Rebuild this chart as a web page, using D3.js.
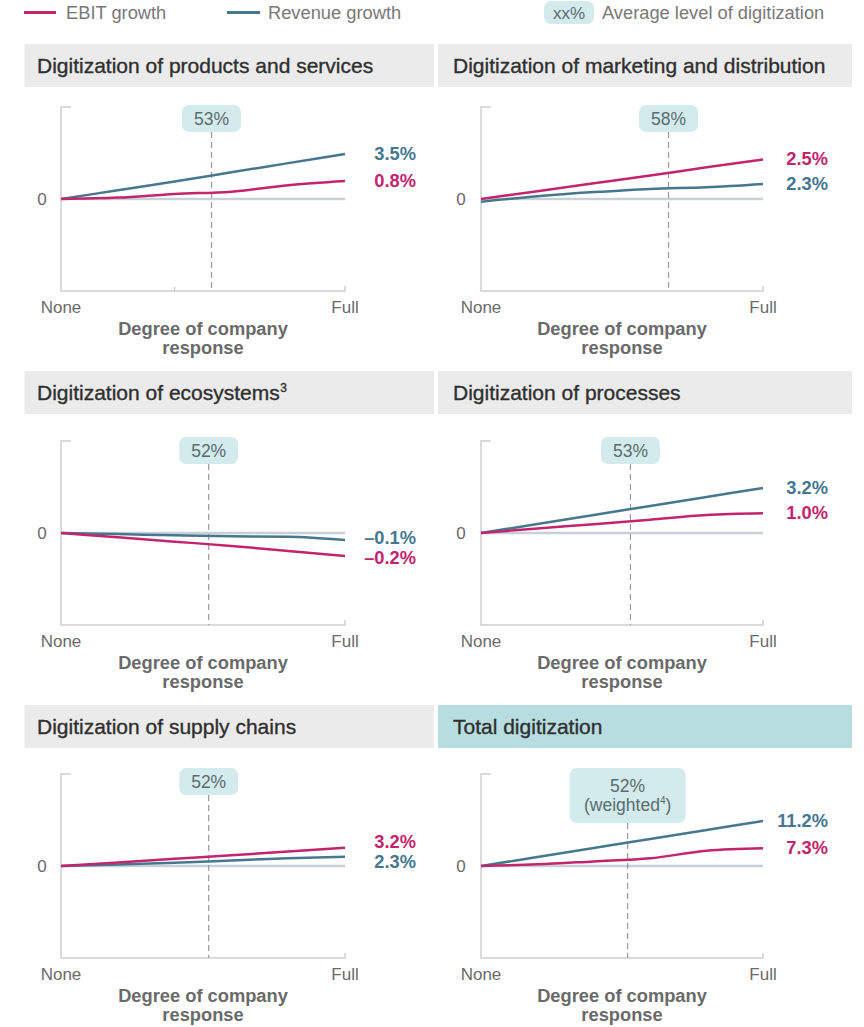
<!DOCTYPE html>
<html>
<head>
<meta charset="utf-8">
<script src="https://cdn.jsdelivr.net/npm/d3@7"></script>
<style>
  html, body { margin: 0; padding: 0; background: #fff; }
  svg { display: block; }
  text { font-family: "Liberation Sans", Arial, Helvetica, sans-serif; }
</style>
</head>
<body>
<svg id="chart" width="864" height="1027"></svg>
<script>
// ---------- DATA ----------
const titles = [
  "Digitization of products and services",
  "Digitization of marketing and distribution",
  "Digitization of ecosystems",
  "Digitization of processes",
  "Digitization of supply chains",
  "Total digitization"
];
const titleSup = ["", "", "3", "", "", ""];
const badgeLabels = ["53%", "58%", "52%", "53%", "52%", "52%"];
const badgeSubLabels = ["", "", "", "", "", "(weighted"];
const markerPos = [53, 66.5, 52, 53, 52, 52];   // position of dashed line on the None..Full axis (0..100)
const xSteps = [0, 20, 40, 60, 80, 100];        // None .. Full
// relative line heights (index units, zero = no growth)
const ebit = [
  [0, 1.5, 5.5, 8, 15, 19.5],
  [0, 8.5, 17, 25.5, 34.5, 43],
  [0, -4.7, -9.4, -14, -19.6, -25],
  [0, 5, 9.5, 14.5, 19.5, 21.4],
  [0, 3.9, 7.8, 11.6, 15.8, 19.9],
  [0, 1.8, 5, 8.3, 16.6, 19.2]
];
const revenue = [
  [0, 9.5, 19, 29, 39, 49],
  [-3, 3, 7.5, 11, 12.7, 16.3],
  [0, -1.2, -2.5, -3.5, -4, -7.6],
  [0, 9.8, 19.6, 29.4, 39.2, 49],
  [0, 1.5, 3.5, 6, 8.4, 10.1],
  [0, 9.8, 19.6, 29.4, 39.2, 49]
];
const ebitLabels = ["0.8%", "2.5%", "\u20130.2%", "1.0%", "3.2%", "7.3%"];
const revenueLabels = ["3.5%", "2.3%", "\u20130.1%", "3.2%", "2.3%", "11.2%"];
const extraTicks = [[40], [], [], [], [], []];
const xTickLabels = ["None", "Full"];
const legendLabels = ["EBIT growth", "Revenue growth", "Average level of digitization"];
const legendBadge = "xx%";

// ---------- STYLE / LAYOUT ----------
const C = {
  ebit: "#c1256d",
  rev: "#46778f",
  zero: "#c6d0d6",
  axis: "#cfcfcf",
  header: "#ebebeb",
  headerTotal: "#b8dde0",
  badge: "#d4ebed",
  badgeText: "#5b6b70",
  gray: "#6a6a6a",
  legend: "#787878",
  title: "#2f2f2f",
  dash: "#9a9a9a"
};
const cols = [
  { hx: 24.5, hw: 409.5, tx: 37, x0: 61, x1: 345, labX: 416, zeroX: 42 },
  { hx: 438, hw: 414, tx: 453, x0: 481, x1: 763, labX: 828, zeroX: 461 }
];
const rows = [
  { hy: 44, top: 107, badgeTop: 105 },
  { hy: 371, top: 441, badgeTop: 437 },
  { hy: 705, top: 774, badgeTop: 768 }
];
const PLOT_H = 184, HEADER_H = 43;

const svg = d3.select("#chart");

// ---------- LEGEND ----------
const leg = svg.append("g");
leg.append("line").attr("x1", 24).attr("x2", 56).attr("y1", 12.5).attr("y2", 12.5)
  .attr("stroke", C.ebit).attr("stroke-width", 3);
leg.append("text").attr("x", 66).attr("y", 19).attr("font-size", 18.3).attr("fill", C.legend).text(legendLabels[0]);
leg.append("line").attr("x1", 227).attr("x2", 260).attr("y1", 12.5).attr("y2", 12.5)
  .attr("stroke", C.rev).attr("stroke-width", 3);
leg.append("text").attr("x", 268).attr("y", 19).attr("font-size", 18.3).attr("fill", C.legend).text(legendLabels[1]);
leg.append("rect").attr("x", 544).attr("y", 1).attr("width", 50).attr("height", 23).attr("rx", 7)
  .attr("fill", C.badge);
leg.append("text").attr("x", 569).attr("y", 18.5).attr("text-anchor", "middle").attr("font-size", 17)
  .attr("fill", C.badgeText).text(legendBadge);
leg.append("text").attr("x", 602).attr("y", 19).attr("font-size", 18.3).attr("fill", C.legend).text(legendLabels[2]);

// ---------- PANELS ----------
titles.forEach((title, i) => {
  const col = cols[i % 2], row = rows[Math.floor(i / 2)];
  const g = svg.append("g");
  const bottom = row.top + PLOT_H;

  const x = d3.scaleLinear().domain([0, 100]).range([col.x0, col.x1]);
  const y = d3.scaleLinear().domain([-100, 100]).range([bottom, row.top]);

  // header
  g.append("rect").attr("x", col.hx).attr("y", row.hy).attr("width", col.hw).attr("height", HEADER_H)
    .attr("fill", i === 5 ? C.headerTotal : C.header);
  const t = g.append("text").attr("x", col.tx).attr("y", row.hy + 29)
    .attr("font-size", 21).attr("fill", C.title).attr("stroke", C.title).attr("stroke-width", 0.35)
    .text(title);
  if (titleSup[i]) {
    t.append("tspan").attr("font-size", 12).attr("dy", -8).attr("dx", 0.5).text(titleSup[i]);
  }

  // axes frame
  g.append("path")
    .attr("d", `M${x(0) + 10},${y(100)} H${x(0)} V${y(-100)} H${x(100)} V${y(-100) - 5}`)
    .attr("fill", "none").attr("stroke", C.axis).attr("stroke-width", 1.5);
  extraTicks[i].forEach(v => {
    g.append("line").attr("x1", x(v)).attr("x2", x(v)).attr("y1", y(-100)).attr("y2", y(-100) - 4)
      .attr("stroke", C.axis).attr("stroke-width", 1.5);
  });

  // zero line
  g.append("line").attr("x1", x(0)).attr("x2", x(100)).attr("y1", y(0)).attr("y2", y(0))
    .attr("stroke", C.zero).attr("stroke-width", 2.5);
  g.append("text").attr("x", col.zeroX).attr("y", y(0) + 6).attr("text-anchor", "middle")
    .attr("font-size", 17).attr("fill", C.gray).text("0");

  // badge + dashed marker
  const isTotal = badgeSubLabels[i] !== "";
  const bw = isTotal ? 116 : 59, bh = isTotal ? 55 : 27;
  const mx = x(markerPos[i]);
  g.append("line").attr("x1", mx).attr("x2", mx).attr("y1", row.badgeTop + bh).attr("y2", y(-100))
    .attr("stroke", C.dash).attr("stroke-width", 1.2).attr("stroke-dasharray", "6,4");
  g.append("rect").attr("x", mx - bw / 2).attr("y", row.badgeTop).attr("width", bw).attr("height", bh)
    .attr("rx", 7).attr("fill", C.badge);
  g.append("text").attr("x", mx).attr("y", row.badgeTop + (isTotal ? 24 : 20))
    .attr("text-anchor", "middle").attr("font-size", 17.5).attr("fill", C.badgeText).text(badgeLabels[i]);
  if (isTotal) {
    const st = g.append("text").attr("x", mx).attr("y", row.badgeTop + 43)
      .attr("text-anchor", "middle").attr("font-size", 17.5).attr("fill", C.badgeText);
    st.append("tspan").text(badgeSubLabels[i]);
    st.append("tspan").attr("font-size", 10).attr("dy", -7).text("4");
    st.append("tspan").attr("dy", 7).text(")");
  }

  // lines
  const line = d3.line().x((d, k) => x(xSteps[k])).y(d => y(d)).curve(d3.curveMonotoneX);
  g.append("path").datum(revenue[i]).attr("d", line).attr("fill", "none")
    .attr("stroke", C.rev).attr("stroke-width", 2.5).attr("stroke-linejoin", "round");
  g.append("path").datum(ebit[i]).attr("d", line).attr("fill", "none")
    .attr("stroke", C.ebit).attr("stroke-width", 2.5).attr("stroke-linejoin", "round");

  // end labels (nudged apart if too close)
  let yr = y(revenue[i][revenue[i].length - 1]);
  let ye = y(ebit[i][ebit[i].length - 1]);
  const minSep = 20;
  if (Math.abs(yr - ye) < minSep) {
    const mid = (yr + ye) / 2, s = yr <= ye ? -1 : 1;
    yr = mid + s * minSep / 2;
    ye = mid - s * minSep / 2;
  }
  g.append("text").attr("x", col.labX).attr("y", yr + 6).attr("text-anchor", "end")
    .attr("font-size", 18.3).attr("font-weight", "bold").attr("fill", C.rev).text(revenueLabels[i]);
  g.append("text").attr("x", col.labX).attr("y", ye + 6).attr("text-anchor", "end")
    .attr("font-size", 18.3).attr("font-weight", "bold").attr("fill", C.ebit).text(ebitLabels[i]);

  // x labels
  g.append("text").attr("x", x(0)).attr("y", bottom + 22).attr("text-anchor", "middle")
    .attr("font-size", 17).attr("fill", C.gray).text(xTickLabels[0]);
  g.append("text").attr("x", x(100)).attr("y", bottom + 22).attr("text-anchor", "middle")
    .attr("font-size", 17).attr("fill", C.gray).text(xTickLabels[1]);
  const xt = g.append("text").attr("x", (col.x0 + col.x1) / 2).attr("y", bottom + 44)
    .attr("text-anchor", "middle").attr("font-size", 18.3).attr("font-weight", "bold").attr("fill", C.gray);
  xt.append("tspan").attr("x", (col.x0 + col.x1) / 2).text("Degree of company");
  xt.append("tspan").attr("x", (col.x0 + col.x1) / 2).attr("dy", 19).text("response");
});
</script>
</body>
</html>
